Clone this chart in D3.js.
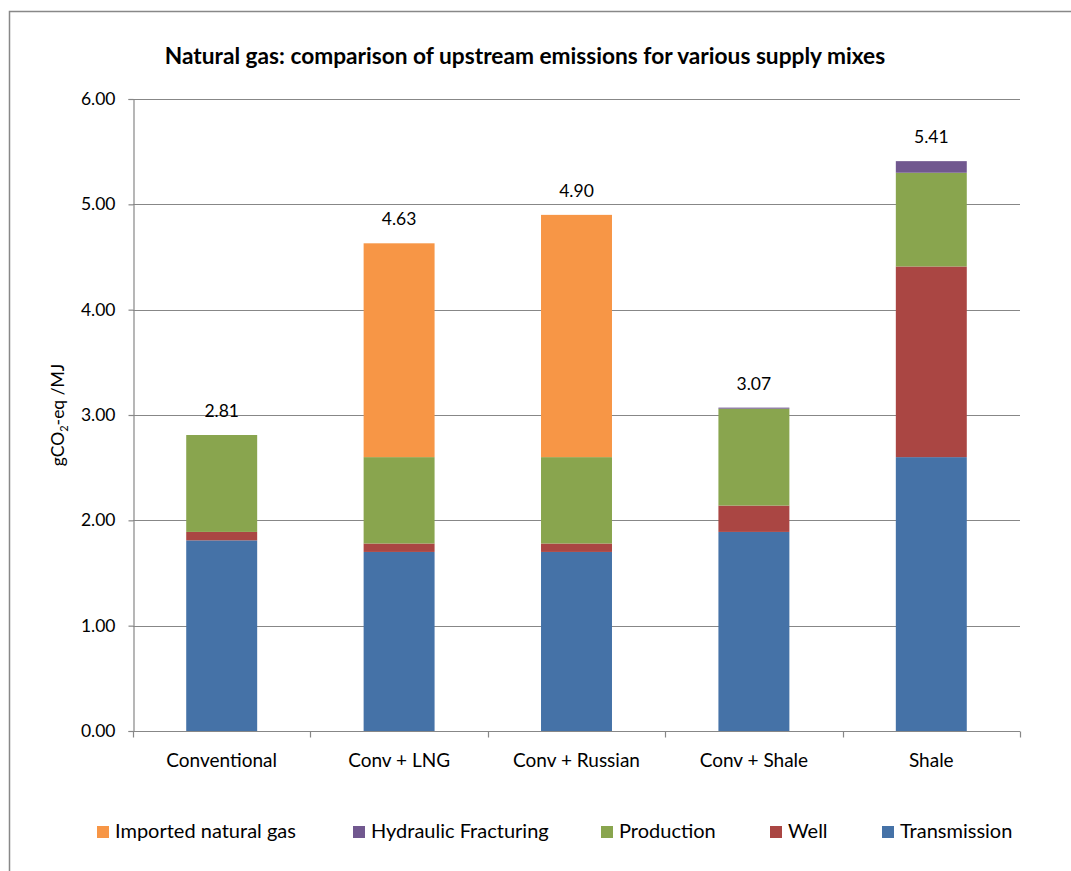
<!DOCTYPE html>
<html><head><meta charset="utf-8">
<script src="https://cdn.jsdelivr.net/npm/d3@7"></script>
<style>body{margin:0;background:#fff;} text{font-family:Lato, "Open Sans", sans-serif;}</style>
</head><body>
<svg id="chart" width="1071" height="871"></svg>
<script>
const categories = ["Conventional", "Conv + LNG", "Conv + Russian", "Conv + Shale", "Shale"];
const transmission = [1.81, 1.70, 1.70, 1.89, 2.60];
const well = [0.08, 0.08, 0.08, 0.25, 1.81];
const production = [0.92, 0.82, 0.82, 0.92, 0.89];
const hydraulic = [0.00, 0.00, 0.00, 0.01, 0.11];
const imported = [0.00, 2.03, 2.30, 0.00, 0.00];
const totals = [2.81, 4.63, 4.90, 3.07, 5.41];
const yTicks = [0, 1, 2, 3, 4, 5, 6];
const seriesNames = ["Transmission", "Well", "Production", "Hydraulic Fracturing", "Imported natural gas"];
const legendOrder = ["Imported natural gas", "Hydraulic Fracturing", "Production", "Well", "Transmission"];
const colors = {"Transmission":"#4572A7","Well":"#AA4643","Production":"#89A54E","Hydraulic Fracturing":"#71588F","Imported natural gas":"#F79646"};

const table = categories.map((c,i)=>({cat:c, "Transmission":transmission[i], "Well":well[i], "Production":production[i], "Hydraulic Fracturing":hydraulic[i], "Imported natural gas":imported[i], total:totals[i]}));

const svg = d3.select("#chart");
// outer frame
svg.append("path").attr("d","M9.5,871 L9.5,11.5 L1071,11.5").attr("fill","none").attr("stroke","#888").attr("stroke-width",1.5);

const L=133, R=1020, T=99, B=731;
const x = d3.scaleBand().domain(categories).range([L,R]).paddingInner(0.6).paddingOuter(0.3);
const y = d3.scaleLinear().domain([0,6]).range([B,T]);

// gridlines
svg.append("g").selectAll("line").data(yTicks.filter(d=>d>0)).join("line")
  .attr("x1",L).attr("x2",R).attr("y1",d=>Math.round(y(d))+0.5).attr("y2",d=>Math.round(y(d))+0.5)
  .attr("stroke","#878787").attr("stroke-width",1.2);

// y axis
const yAxis = svg.append("g").attr("transform",`translate(${L+0.5},0)`)
  .call(d3.axisLeft(y).tickValues(yTicks).tickFormat(d3.format(".2f")).tickSize(5).tickPadding(13));
yAxis.select(".domain").attr("stroke","#878787").attr("stroke-width",1.2);
yAxis.selectAll(".tick line").attr("stroke","#878787").attr("stroke-width",1.2);
yAxis.selectAll(".tick text").attr("font-size",17.5).attr("fill","#000").attr("font-family","Lato");

// stacked bars
const stack = d3.stack().keys(seriesNames)(table);
svg.append("g").selectAll("g").data(stack).join("g").attr("fill",d=>colors[d.key])
  .selectAll("rect").data(d=>d).join("rect")
  .attr("x",d=>x(d.data.cat)).attr("width",x.bandwidth())
  .attr("y",d=>y(d[1])).attr("height",d=>Math.max(0,y(d[0])-y(d[1])));

// x axis
const xg = svg.append("g").attr("transform",`translate(0,${B+0.5})`);
xg.append("line").attr("x1",L).attr("x2",R).attr("stroke","#878787").attr("stroke-width",1.2);
const bounds = d3.range(categories.length+1).map(i=>L + i*x.step());
xg.selectAll("line.t").data(bounds).join("line").attr("class","t")
  .attr("x1",d=>Math.round(d)+0.5).attr("x2",d=>Math.round(d)+0.5).attr("y1",0).attr("y2",6)
  .attr("stroke","#878787").attr("stroke-width",1.2);
xg.selectAll("text").data(categories).join("text")
  .attr("x",d=>x(d)+x.bandwidth()/2).attr("y",35).attr("text-anchor","middle")
  .attr("font-size",19).text(d=>d);

// totals
svg.append("g").selectAll("text").data(table).join("text")
  .attr("x",d=>x(d.cat)+x.bandwidth()/2).attr("y",d=>y(d.total)-18)
  .attr("text-anchor","middle").attr("font-size",17.5).text(d=>d3.format(".2f")(d.total));

// title
svg.append("text").attr("x",525).attr("y",64).attr("text-anchor","middle")
  .attr("font-size",22.7).attr("font-weight","bold").text("Natural gas: comparison of upstream emissions for various supply mixes");

// y title
const yt = svg.append("text").attr("transform","translate(64,415) rotate(-90)").attr("text-anchor","middle").attr("font-size",17.5);
yt.append("tspan").text("gCO");
yt.append("tspan").attr("font-size",11).attr("dy",4).text("2");
yt.append("tspan").attr("dy",-4).text("-eq /MJ");

// legend
const legX = [97, 353, 601, 770, 882];
const lg = svg.append("g");
legendOrder.forEach((k,i)=>{
  lg.append("rect").attr("x",legX[i]).attr("y",826).attr("width",12).attr("height",12).attr("fill",colors[k]);
  lg.append("text").attr("x",legX[i]+18).attr("y",838).attr("font-size",20).text(k);
});
</script>
</body></html>
